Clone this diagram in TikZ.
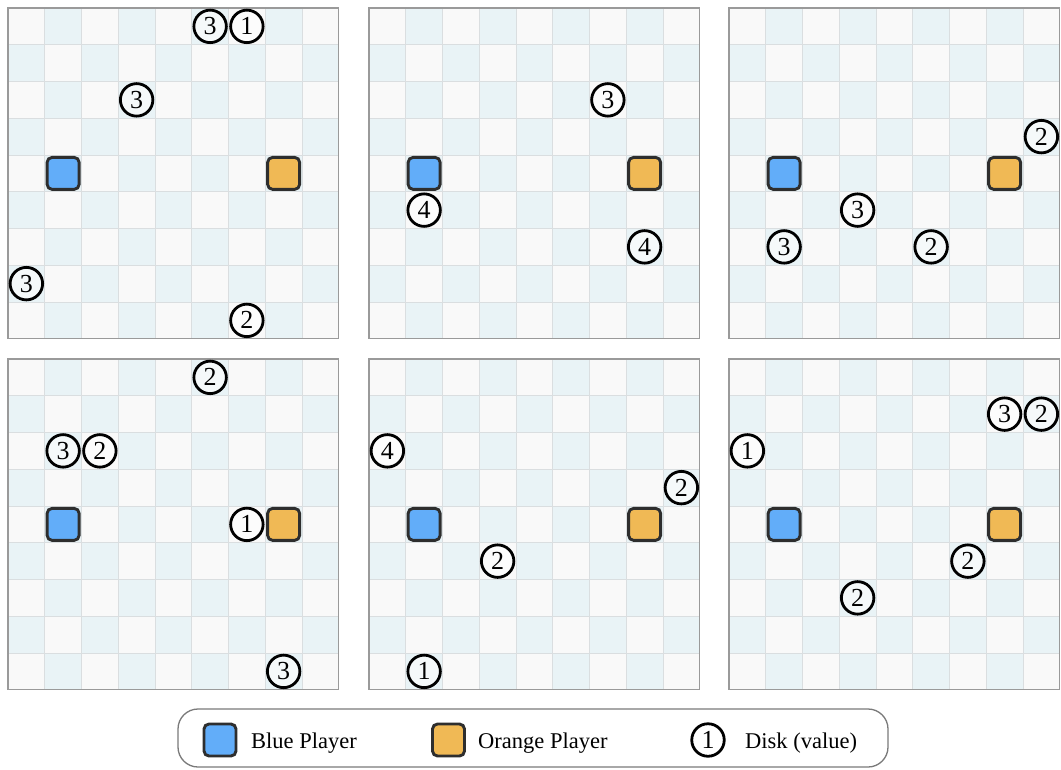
\documentclass[tikz,border=0pt]{standalone}
\usepackage{fontspec}
\setmainfont{Liberation Serif}
\definecolor{cellA}{HTML}{F9F9F9}
\definecolor{cellB}{HTML}{E9F3F6}
\definecolor{gridc}{HTML}{DADEE0}
\definecolor{framec}{HTML}{9A9A9A}
\definecolor{legframe}{HTML}{7A7A7A}
\definecolor{blueP}{HTML}{62ADF9}
\definecolor{orangeP}{HTML}{F0B955}
\definecolor{edgeP}{HTML}{2E2E2E}
\newcommand\gamepanel[3]{%
  \begin{scope}[shift={(#2,#3)}, x=36.75pt, y=-36.75pt]
    \foreach \r in {0,...,8}{\foreach \c in {0,...,8}{%
      \pgfmathtruncatemacro\cpar{mod(\r+\c,2)}%
      \ifnum\cpar=1 \fill[cellB] (\c,\r) rectangle ++(1,1);%
      \else \fill[cellA] (\c,\r) rectangle ++(1,1);\fi}}
    \foreach \k in {1,...,8}{\draw[gridc, line width=1pt] (\k,0) -- (\k,9); \draw[gridc, line width=1pt] (0,\k) -- (9,\k);}
    \draw[framec, line width=1.3pt] (0,0) rectangle (9,9);
    \node[bluep] (#1b) at (1.5,4.5) {};
    \node[orangep] (#1o) at (7.5,4.5) {};
  \end{scope}}
\newcommand\disks[4]{%
  \begin{scope}[shift={(#2,#3)}, x=36.75pt, y=-36.75pt]
    \foreach \c/\r/\v [count=\n] in {#4}{\node[disk] (#1d\n) at (\c+0.5,\r+0.5) {\v};}
  \end{scope}}
\begin{document}
\begin{tikzpicture}[x=1pt,y=-1pt,
  player/.style={draw=edgeP, line width=2.9pt, rounded corners=5pt, minimum size=32pt, inner sep=0pt},
  bluep/.style={player, fill=blueP},
  orangep/.style={player, fill=orangeP},
  disk/.style={circle, draw=black, line width=2.8pt, minimum size=32.5pt, inner sep=0pt, fill=white, fill opacity=0.55, text opacity=1, font=\fontsize{26}{26}\selectfont},
  legendtext/.style={font=\fontsize{22.5}{24}\selectfont, anchor=base west, inner sep=0pt}
]
\useasboundingbox (0,0) rectangle (1061,769);
\fill[white] (0,0) rectangle (1061,769);
\gamepanel{pa}{8}{8}
\gamepanel{pb}{369}{8}
\gamepanel{pc}{729}{8}
\gamepanel{pd}{8}{359}
\gamepanel{pe}{369}{359}
\gamepanel{pf}{729}{359}
\disks{pa}{8}{8}{5/0/3, 6/0/1, 3/2/3, 0/7/3, 6/8/2}
\disks{pb}{369}{8}{6/2/3, 1/5/4, 7/6/4}
\disks{pc}{729}{8}{8/3/2, 3/5/3, 1/6/3, 5/6/2}
\disks{pd}{8}{359}{5/0/2, 1/2/3, 2/2/2, 6/4/1, 7/8/3}
\disks{pe}{369}{359}{0/2/4, 8/3/2, 3/5/2, 1/8/1}
\disks{pf}{729}{359}{7/1/3, 8/1/2, 0/2/1, 6/5/2, 3/6/2}
% legend
\draw[legframe, line width=1.3pt, fill=white, rounded corners=20pt] (178,709) rectangle (888,767);
\node[bluep] (legb) at (220,740) {};
\node[legendtext] (legbt) at (251,748) {Blue Player};
\node[orangep] (lego) at (448.5,740) {};
\node[legendtext] (legot) at (478,748) {Orange Player};
\node[disk] (legd) at (708,740) {1};
\node[legendtext] (legdt) at (745,748) {Disk (value)};
\end{tikzpicture}
\end{document}
